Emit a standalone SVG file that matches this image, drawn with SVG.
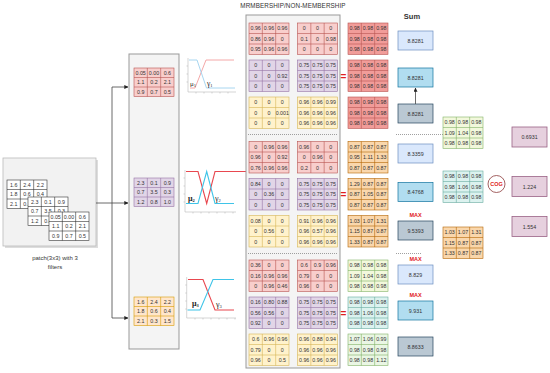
<svg xmlns="http://www.w3.org/2000/svg" xmlns:xlink="http://www.w3.org/1999/xlink" width="550" height="373" viewBox="0 0 550 373">
<style>
.t{font-family:"Liberation Sans",Arial,sans-serif;font-size:5.3px;fill:#333;text-anchor:middle}
.lb{font-family:"Liberation Sans",Arial,sans-serif;fill:#333;text-anchor:middle}
.gk{font-family:"Liberation Serif","Times New Roman",serif;fill:#222}
.pk{fill:#f8cecc;stroke:#b85450;stroke-width:.6}
.pu{fill:#e1d5e7;stroke:#9673a6;stroke-width:.6}
.ye{fill:#fff2cc;stroke:#d6b656;stroke-width:.6}
.or{fill:#ffe6cc;stroke:#d79b00;stroke-width:.6}
.rr{fill:#f19c99;stroke:#b85450;stroke-width:.6}
.ro{fill:#fad7ac;stroke:#b46504;stroke-width:.6}
.g1{fill:#f2f8dc;stroke:#82b366;stroke-width:.6}
.g2{fill:#dcf2ef;stroke:#67ab9f;stroke-width:.6}
.g3{fill:#eaf6e4;stroke:#82b366;stroke-width:.6}
.wh{fill:#fff;stroke:#333;stroke-width:.6}
.panel{fill:#f4f4f4;stroke:#999;stroke-width:1}
.b1{fill:#dae8fc;stroke:#6c8ebf;stroke-width:.7}
.b2{fill:#b1ddf0;stroke:#10739e;stroke-width:.7}
.b3{fill:#bac8d3;stroke:#23445d;stroke-width:.7}
.pb{fill:#e6d0de;stroke:#996185;stroke-width:.8}
.ax{stroke:#bbb;stroke-width:.6;fill:none}
.max{font-family:"Liberation Sans",Arial,sans-serif;font-size:5.5px;font-weight:bold;fill:#e02020;text-anchor:middle}
.eq{font-family:"Liberation Sans",Arial,sans-serif;font-size:10px;font-weight:bold;fill:#e02020;text-anchor:middle}
.dot{stroke:#888;stroke-width:.8;stroke-dasharray:1 1;fill:none}
.cn{stroke:#444;stroke-width:.8;fill:none}
</style>
<defs>
<path id="gb" d="M13.33 0V31.5M26.67 0V31.5M0 10.5H40M0 21H40"/>
<path id="gs" d="M13.33 0V28.5M26.67 0V28.5M0 9.5H40M0 19H40"/>
<marker id="ah" viewBox="0 0 6 6" refX="5.5" refY="3" markerWidth="5" markerHeight="5" orient="auto"><path d="M0 0L6 3L0 6z" fill="#222"/></marker>
</defs>
<rect width="550" height="373" fill="#fff"/>

<!-- titles -->
<text class="lb" x="293" y="8" font-size="6.3" letter-spacing="0.1">MRMBERSHIP/NON-MEMBERSHIP</text>
<text class="lb" x="412" y="19" font-size="7.5" font-weight="bold">Sum</text>

<!-- patch panel -->
<g id="patch">
<rect x="5" y="160" width="93" height="88" fill="#ddd"/>
<rect x="3" y="158" width="93" height="88" fill="#f2f2f2" stroke="#bbb" stroke-width=".8"/>
<g transform="translate(7 180)"><rect class="wh" width="40" height="28.5"/><use xlink:href="#gs" class="wh"/>
<text class="t" y="6.75"><tspan x="6.67">1.6</tspan><tspan x="20">2.4</tspan><tspan x="33.33">2.2</tspan></text>
<text class="t" y="16.25"><tspan x="6.67">1.8</tspan><tspan x="20">0.6</tspan><tspan x="33.33">0.4</tspan></text>
<text class="t" y="25.75"><tspan x="6.67">2.1</tspan><tspan x="20">0.3</tspan><tspan x="33.33">1.5</tspan></text></g>
<g transform="translate(28 197)"><rect class="wh" width="40" height="28.5"/><use xlink:href="#gs" class="wh"/>
<text class="t" y="6.75"><tspan x="6.67">2.3</tspan><tspan x="20">0.1</tspan><tspan x="33.33">0.9</tspan></text>
<text class="t" y="16.25"><tspan x="6.67">0.7</tspan><tspan x="20">3.5</tspan><tspan x="33.33">0.3</tspan></text>
<text class="t" y="25.75"><tspan x="6.67">1.2</tspan><tspan x="20">0.8</tspan><tspan x="33.33">1.0</tspan></text></g>
<g transform="translate(49 212)"><rect class="wh" width="40" height="28.5"/><use xlink:href="#gs" class="wh"/>
<text class="t" y="6.75"><tspan x="6.67">0.05</tspan><tspan x="20">0.00</tspan><tspan x="33.33">0.6</tspan></text>
<text class="t" y="16.25"><tspan x="6.67">1.1</tspan><tspan x="20">0.2</tspan><tspan x="33.33">2.1</tspan></text>
<text class="t" y="25.75"><tspan x="6.67">0.9</tspan><tspan x="20">0.7</tspan><tspan x="33.33">0.5</tspan></text></g>
<text class="lb" x="55" y="260" font-size="6">patch(3x3) with 3</text>
<text class="lb" x="55" y="268.5" font-size="6">filters</text>
</g>

<!-- filter panel -->
<g id="filters">
<rect class="panel" x="129" y="54" width="50" height="295"/>
<g transform="translate(134 68)"><rect class="pk" width="40" height="28.5"/><use xlink:href="#gs" class="pk"/>
<text class="t" y="6.75"><tspan x="6.67">0.05</tspan><tspan x="20">0.00</tspan><tspan x="33.33">0.6</tspan></text>
<text class="t" y="16.25"><tspan x="6.67">1.1</tspan><tspan x="20">0.2</tspan><tspan x="33.33">2.1</tspan></text>
<text class="t" y="25.75"><tspan x="6.67">0.9</tspan><tspan x="20">0.7</tspan><tspan x="33.33">0.5</tspan></text></g>
<g transform="translate(134 178)"><rect class="pu" width="40" height="28.5"/><use xlink:href="#gs" class="pu"/>
<text class="t" y="6.75"><tspan x="6.67">2.3</tspan><tspan x="20">0.1</tspan><tspan x="33.33">0.9</tspan></text>
<text class="t" y="16.25"><tspan x="6.67">0.7</tspan><tspan x="20">3.5</tspan><tspan x="33.33">0.3</tspan></text>
<text class="t" y="25.75"><tspan x="6.67">1.2</tspan><tspan x="20">0.8</tspan><tspan x="33.33">1.0</tspan></text></g>
<g transform="translate(134 297)"><rect class="or" width="40" height="28.5"/><use xlink:href="#gs" class="or"/>
<text class="t" y="6.75"><tspan x="6.67">1.6</tspan><tspan x="20">2.4</tspan><tspan x="33.33">2.2</tspan></text>
<text class="t" y="16.25"><tspan x="6.67">1.8</tspan><tspan x="20">0.6</tspan><tspan x="33.33">0.4</tspan></text>
<text class="t" y="25.75"><tspan x="6.67">2.1</tspan><tspan x="20">0.3</tspan><tspan x="33.33">1.5</tspan></text></g>
</g>

<!-- charts -->
<g id="chart1">
<path class="ax" d="M188 58V92H236M188 66h-1.5M188 74h-1.5M188 82h-1.5M196 92v1.5M204 92v1.5M212 92v1.5M220 92v1.5M228 92v1.5"/>
<path d="M190 88H195L206 60H234" fill="none" stroke="#f4a8a8" stroke-width="1"/>
<path d="M189 60H197L206.5 88H235" fill="none" stroke="#a8d6f0" stroke-width="1"/>
<text class="gk" x="190" y="86" font-size="7">μ<tspan font-size="4.5" dy="1">1</tspan></text>
<text class="gk" x="207" y="86" font-size="7.5">γ<tspan font-size="4.5" dy="1">1</tspan></text>
</g>
<g id="chart2">
<path class="ax" d="M185 170V212H236M185 178h-1.5M185 186h-1.5M185 194h-1.5M185 202h-1.5M193 212v1.5M201 212v1.5M209 212v1.5M217 212v1.5M225 212v1.5M233 212v1.5"/>
<path d="M186 171.5H198L206.7 203.5L215 171.5H246" fill="none" stroke="#e8474f" stroke-width="1.1"/>
<path d="M186 203.5H198L206.7 171.5L215 203.5H234" fill="none" stroke="#3fc4e8" stroke-width="1.1"/>
<text class="gk" x="188" y="201" font-size="8" font-weight="bold">μ<tspan font-size="4.5" dy="1">2</tspan></text>
<text class="gk" x="215" y="201" font-size="8">γ<tspan font-size="4.5" dy="1">2</tspan></text>
</g>
<g id="chart3">
<path class="ax" d="M186.7 277V318H236M186.7 285h-1.5M186.7 293h-1.5M186.7 301h-1.5M186.7 309h-1.5M195 318v1.5M203 318v1.5M211 318v1.5M219 318v1.5M227 318v1.5M235 318v1.5"/>
<path d="M188 279.5H203L215 310H234" fill="none" stroke="#e8474f" stroke-width="1.1"/>
<path d="M187.5 310H200L213 279.5H234" fill="none" stroke="#3fc4e8" stroke-width="1.1"/>
<text class="gk" x="192" y="306" font-size="8" font-weight="bold">μ<tspan font-size="4.5" dy="1">3</tspan></text>
<text class="gk" x="216" y="307" font-size="8">γ<tspan font-size="4.5" dy="1">3</tspan></text>
</g>

<!-- membership panel -->
<g id="membership">
<rect class="panel" x="246" y="15" width="94" height="353"/>
<path class="dot" d="M248 134.5H338M248 253.5H338"/>
<!-- G1 left -->
<g transform="translate(249 23)"><rect class="pk" width="40" height="31.5"/><use xlink:href="#gb" class="pk"/>
<text class="t" y="7.25"><tspan x="6.67">0.96</tspan><tspan x="20">0.96</tspan><tspan x="33.33">0.96</tspan></text>
<text class="t" y="17.75"><tspan x="6.67">0.86</tspan><tspan x="20">0.96</tspan><tspan x="33.33">0</tspan></text>
<text class="t" y="28.25"><tspan x="6.67">0.95</tspan><tspan x="20">0.96</tspan><tspan x="33.33">0.96</tspan></text></g>
<g transform="translate(249 60)"><rect class="pu" width="40" height="31.5"/><use xlink:href="#gb" class="pu"/>
<text class="t" y="7.25"><tspan x="6.67">0</tspan><tspan x="20">0</tspan><tspan x="33.33">0</tspan></text>
<text class="t" y="17.75"><tspan x="6.67">0</tspan><tspan x="20">0</tspan><tspan x="33.33">0.92</tspan></text>
<text class="t" y="28.25"><tspan x="6.67">0</tspan><tspan x="20">0</tspan><tspan x="33.33">0</tspan></text></g>
<g transform="translate(249 97)"><rect class="ye" width="40" height="31.5"/><use xlink:href="#gb" class="ye"/>
<text class="t" y="7.25"><tspan x="6.67">0</tspan><tspan x="20">0</tspan><tspan x="33.33">0</tspan></text>
<text class="t" y="17.75"><tspan x="6.67">0</tspan><tspan x="20">0</tspan><tspan x="33.33">0.001</tspan></text>
<text class="t" y="28.25"><tspan x="6.67">0</tspan><tspan x="20">0</tspan><tspan x="33.33">0</tspan></text></g>
<!-- G1 right -->
<g transform="translate(297.5 23)"><rect class="pk" width="40" height="31.5"/><use xlink:href="#gb" class="pk"/>
<text class="t" y="7.25"><tspan x="6.67">0</tspan><tspan x="20">0</tspan><tspan x="33.33">0</tspan></text>
<text class="t" y="17.75"><tspan x="6.67">0.1</tspan><tspan x="20">0</tspan><tspan x="33.33">0.98</tspan></text>
<text class="t" y="28.25"><tspan x="6.67">0</tspan><tspan x="20">0</tspan><tspan x="33.33">0</tspan></text></g>
<g transform="translate(297.5 60)"><rect class="pu" width="40" height="31.5"/><use xlink:href="#gb" class="pu"/>
<text class="t" y="7.25"><tspan x="6.67">0.75</tspan><tspan x="20">0.75</tspan><tspan x="33.33">0.75</tspan></text>
<text class="t" y="17.75"><tspan x="6.67">0.75</tspan><tspan x="20">0.75</tspan><tspan x="33.33">0.75</tspan></text>
<text class="t" y="28.25"><tspan x="6.67">0.75</tspan><tspan x="20">0.75</tspan><tspan x="33.33">0.75</tspan></text></g>
<g transform="translate(297.5 97)"><rect class="ye" width="40" height="31.5"/><use xlink:href="#gb" class="ye"/>
<text class="t" y="7.25"><tspan x="6.67">0.96</tspan><tspan x="20">0.96</tspan><tspan x="33.33">0.99</tspan></text>
<text class="t" y="17.75"><tspan x="6.67">0.96</tspan><tspan x="20">0.96</tspan><tspan x="33.33">0.96</tspan></text>
<text class="t" y="28.25"><tspan x="6.67">0.96</tspan><tspan x="20">0.96</tspan><tspan x="33.33">0.96</tspan></text></g>
<!-- G2 left -->
<g transform="translate(249 141.5)"><rect class="pk" width="40" height="31.5"/><use xlink:href="#gb" class="pk"/>
<text class="t" y="7.25"><tspan x="6.67">0</tspan><tspan x="20">0.96</tspan><tspan x="33.33">0.96</tspan></text>
<text class="t" y="17.75"><tspan x="6.67">0.96</tspan><tspan x="20">0</tspan><tspan x="33.33">0.92</tspan></text>
<text class="t" y="28.25"><tspan x="6.67">0.76</tspan><tspan x="20">0.96</tspan><tspan x="33.33">0.96</tspan></text></g>
<g transform="translate(249 178.5)"><rect class="pu" width="40" height="31.5"/><use xlink:href="#gb" class="pu"/>
<text class="t" y="7.25"><tspan x="6.67">0.84</tspan><tspan x="20">0</tspan><tspan x="33.33">0</tspan></text>
<text class="t" y="17.75"><tspan x="6.67">0</tspan><tspan x="20">0.36</tspan><tspan x="33.33">0</tspan></text>
<text class="t" y="28.25"><tspan x="6.67">0</tspan><tspan x="20">0</tspan><tspan x="33.33">0</tspan></text></g>
<g transform="translate(249 215.5)"><rect class="ye" width="40" height="31.5"/><use xlink:href="#gb" class="ye"/>
<text class="t" y="7.25"><tspan x="6.67">0.08</tspan><tspan x="20">0</tspan><tspan x="33.33">0</tspan></text>
<text class="t" y="17.75"><tspan x="6.67">0</tspan><tspan x="20">0.56</tspan><tspan x="33.33">0</tspan></text>
<text class="t" y="28.25"><tspan x="6.67">0</tspan><tspan x="20">0</tspan><tspan x="33.33">0</tspan></text></g>
<!-- G2 right -->
<g transform="translate(297.5 141.5)"><rect class="pk" width="40" height="31.5"/><use xlink:href="#gb" class="pk"/>
<text class="t" y="7.25"><tspan x="6.67">0.96</tspan><tspan x="20">0</tspan><tspan x="33.33">0</tspan></text>
<text class="t" y="17.75"><tspan x="6.67">0</tspan><tspan x="20">0.96</tspan><tspan x="33.33">0</tspan></text>
<text class="t" y="28.25"><tspan x="6.67">0.2</tspan><tspan x="20">0</tspan><tspan x="33.33">0</tspan></text></g>
<g transform="translate(297.5 178.5)"><rect class="pu" width="40" height="31.5"/><use xlink:href="#gb" class="pu"/>
<text class="t" y="7.25"><tspan x="6.67">0.75</tspan><tspan x="20">0.75</tspan><tspan x="33.33">0.75</tspan></text>
<text class="t" y="17.75"><tspan x="6.67">0.75</tspan><tspan x="20">0.75</tspan><tspan x="33.33">0.75</tspan></text>
<text class="t" y="28.25"><tspan x="6.67">0.75</tspan><tspan x="20">0.75</tspan><tspan x="33.33">0.75</tspan></text></g>
<g transform="translate(297.5 215.5)"><rect class="ye" width="40" height="31.5"/><use xlink:href="#gb" class="ye"/>
<text class="t" y="7.25"><tspan x="6.67">0.91</tspan><tspan x="20">0.96</tspan><tspan x="33.33">0.96</tspan></text>
<text class="t" y="17.75"><tspan x="6.67">0.96</tspan><tspan x="20">0.57</tspan><tspan x="33.33">0.96</tspan></text>
<text class="t" y="28.25"><tspan x="6.67">0.96</tspan><tspan x="20">0.96</tspan><tspan x="33.33">0.96</tspan></text></g>
<!-- G3 left -->
<g transform="translate(249 260)"><rect class="pk" width="40" height="31.5"/><use xlink:href="#gb" class="pk"/>
<text class="t" y="7.25"><tspan x="6.67">0.36</tspan><tspan x="20">0</tspan><tspan x="33.33">0</tspan></text>
<text class="t" y="17.75"><tspan x="6.67">0.16</tspan><tspan x="20">0.96</tspan><tspan x="33.33">0.96</tspan></text>
<text class="t" y="28.25"><tspan x="6.67">0</tspan><tspan x="20">0.96</tspan><tspan x="33.33">0.46</tspan></text></g>
<g transform="translate(249 297)"><rect class="pu" width="40" height="31.5"/><use xlink:href="#gb" class="pu"/>
<text class="t" y="7.25"><tspan x="6.67">0.16</tspan><tspan x="20">0.80</tspan><tspan x="33.33">0.88</tspan></text>
<text class="t" y="17.75"><tspan x="6.67">0.56</tspan><tspan x="20">0.56</tspan><tspan x="33.33">0</tspan></text>
<text class="t" y="28.25"><tspan x="6.67">0.92</tspan><tspan x="20">0</tspan><tspan x="33.33">0</tspan></text></g>
<g transform="translate(249 334)"><rect class="ye" width="40" height="31.5"/><use xlink:href="#gb" class="ye"/>
<text class="t" y="7.25"><tspan x="6.67">0.6</tspan><tspan x="20">0.96</tspan><tspan x="33.33">0.96</tspan></text>
<text class="t" y="17.75"><tspan x="6.67">0.79</tspan><tspan x="20">0</tspan><tspan x="33.33">0</tspan></text>
<text class="t" y="28.25"><tspan x="6.67">0.96</tspan><tspan x="20">0</tspan><tspan x="33.33">0.5</tspan></text></g>
<!-- G3 right -->
<g transform="translate(297.5 260)"><rect class="pk" width="40" height="31.5"/><use xlink:href="#gb" class="pk"/>
<text class="t" y="7.25"><tspan x="6.67">0.6</tspan><tspan x="20">0.9</tspan><tspan x="33.33">0.96</tspan></text>
<text class="t" y="17.75"><tspan x="6.67">0.79</tspan><tspan x="20">0</tspan><tspan x="33.33">0</tspan></text>
<text class="t" y="28.25"><tspan x="6.67">0.96</tspan><tspan x="20">0</tspan><tspan x="33.33">0</tspan></text></g>
<g transform="translate(297.5 297)"><rect class="pu" width="40" height="31.5"/><use xlink:href="#gb" class="pu"/>
<text class="t" y="7.25"><tspan x="6.67">0.75</tspan><tspan x="20">0.75</tspan><tspan x="33.33">0.75</tspan></text>
<text class="t" y="17.75"><tspan x="6.67">0.75</tspan><tspan x="20">0.75</tspan><tspan x="33.33">0.75</tspan></text>
<text class="t" y="28.25"><tspan x="6.67">0.75</tspan><tspan x="20">0.75</tspan><tspan x="33.33">0.75</tspan></text></g>
<g transform="translate(297.5 334)"><rect class="ye" width="40" height="31.5"/><use xlink:href="#gb" class="ye"/>
<text class="t" y="7.25"><tspan x="6.67">0.96</tspan><tspan x="20">0.88</tspan><tspan x="33.33">0.94</tspan></text>
<text class="t" y="17.75"><tspan x="6.67">0.96</tspan><tspan x="20">0.96</tspan><tspan x="33.33">0.96</tspan></text>
<text class="t" y="28.25"><tspan x="6.67">0.96</tspan><tspan x="20">0.96</tspan><tspan x="33.33">0.96</tspan></text></g>
</g>

<text class="eq" x="343.5" y="79.5">=</text>
<text class="eq" x="343.5" y="197.5">=</text>
<text class="eq" x="343.5" y="316.5">=</text>

<!-- results -->
<g id="results">
<g transform="translate(348 23)"><rect class="rr" width="40" height="31.5"/><use xlink:href="#gb" class="rr"/>
<text class="t" y="7.25"><tspan x="6.67">0.98</tspan><tspan x="20">0.98</tspan><tspan x="33.33">0.98</tspan></text>
<text class="t" y="17.75"><tspan x="6.67">0.98</tspan><tspan x="20">0.98</tspan><tspan x="33.33">0.98</tspan></text>
<text class="t" y="28.25"><tspan x="6.67">0.98</tspan><tspan x="20">0.98</tspan><tspan x="33.33">0.98</tspan></text></g>
<g transform="translate(348 60)"><rect class="rr" width="40" height="31.5"/><use xlink:href="#gb" class="rr"/>
<text class="t" y="7.25"><tspan x="6.67">0.98</tspan><tspan x="20">0.98</tspan><tspan x="33.33">0.98</tspan></text>
<text class="t" y="17.75"><tspan x="6.67">0.98</tspan><tspan x="20">0.98</tspan><tspan x="33.33">0.98</tspan></text>
<text class="t" y="28.25"><tspan x="6.67">0.98</tspan><tspan x="20">0.98</tspan><tspan x="33.33">0.98</tspan></text></g>
<g transform="translate(348 97)"><rect class="rr" width="40" height="31.5"/><use xlink:href="#gb" class="rr"/>
<text class="t" y="7.25"><tspan x="6.67">0.98</tspan><tspan x="20">0.98</tspan><tspan x="33.33">0.98</tspan></text>
<text class="t" y="17.75"><tspan x="6.67">0.98</tspan><tspan x="20">0.98</tspan><tspan x="33.33">0.98</tspan></text>
<text class="t" y="28.25"><tspan x="6.67">0.98</tspan><tspan x="20">0.98</tspan><tspan x="33.33">0.98</tspan></text></g>
<g transform="translate(348 141.5)"><rect class="ro" width="40" height="31.5"/><use xlink:href="#gb" class="ro"/>
<text class="t" y="7.25"><tspan x="6.67">0.87</tspan><tspan x="20">0.87</tspan><tspan x="33.33">0.87</tspan></text>
<text class="t" y="17.75"><tspan x="6.67">0.95</tspan><tspan x="20">1.11</tspan><tspan x="33.33">1.33</tspan></text>
<text class="t" y="28.25"><tspan x="6.67">0.87</tspan><tspan x="20">0.87</tspan><tspan x="33.33">0.87</tspan></text></g>
<g transform="translate(348 178.5)"><rect class="ro" width="40" height="31.5"/><use xlink:href="#gb" class="ro"/>
<text class="t" y="7.25"><tspan x="6.67">1.29</tspan><tspan x="20">0.87</tspan><tspan x="33.33">0.87</tspan></text>
<text class="t" y="17.75"><tspan x="6.67">0.87</tspan><tspan x="20">1.05</tspan><tspan x="33.33">0.87</tspan></text>
<text class="t" y="28.25"><tspan x="6.67">0.87</tspan><tspan x="20">0.87</tspan><tspan x="33.33">0.87</tspan></text></g>
<g transform="translate(348 215.5)"><rect class="ro" width="40" height="31.5"/><use xlink:href="#gb" class="ro"/>
<text class="t" y="7.25"><tspan x="6.67">1.03</tspan><tspan x="20">1.07</tspan><tspan x="33.33">1.31</tspan></text>
<text class="t" y="17.75"><tspan x="6.67">1.15</tspan><tspan x="20">0.87</tspan><tspan x="33.33">0.87</tspan></text>
<text class="t" y="28.25"><tspan x="6.67">1.33</tspan><tspan x="20">0.87</tspan><tspan x="33.33">0.87</tspan></text></g>
<g transform="translate(348 260)"><rect class="g1" width="40" height="31.5"/><use xlink:href="#gb" class="g1"/>
<text class="t" y="7.25"><tspan x="6.67">0.98</tspan><tspan x="20">0.98</tspan><tspan x="33.33">0.98</tspan></text>
<text class="t" y="17.75"><tspan x="6.67">1.09</tspan><tspan x="20">1.04</tspan><tspan x="33.33">0.98</tspan></text>
<text class="t" y="28.25"><tspan x="6.67">0.98</tspan><tspan x="20">0.98</tspan><tspan x="33.33">0.98</tspan></text></g>
<g transform="translate(348 297)"><rect class="g2" width="40" height="31.5"/><use xlink:href="#gb" class="g2"/>
<text class="t" y="7.25"><tspan x="6.67">0.98</tspan><tspan x="20">0.98</tspan><tspan x="33.33">0.98</tspan></text>
<text class="t" y="17.75"><tspan x="6.67">0.98</tspan><tspan x="20">1.06</tspan><tspan x="33.33">0.98</tspan></text>
<text class="t" y="28.25"><tspan x="6.67">0.98</tspan><tspan x="20">0.98</tspan><tspan x="33.33">0.98</tspan></text></g>
<g transform="translate(348 334)"><rect class="g3" width="40" height="31.5"/><use xlink:href="#gb" class="g3"/>
<text class="t" y="7.25"><tspan x="6.67">1.07</tspan><tspan x="20">1.06</tspan><tspan x="33.33">0.99</tspan></text>
<text class="t" y="17.75"><tspan x="6.67">0.98</tspan><tspan x="20">0.98</tspan><tspan x="33.33">0.98</tspan></text>
<text class="t" y="28.25"><tspan x="6.67">0.98</tspan><tspan x="20">0.98</tspan><tspan x="33.33">1.12</tspan></text></g>
</g>

<!-- sums -->
<path class="dot" d="M396 134.5H448M396 253.5H422"/>
<g id="sums" font-family="Liberation Sans, Arial, sans-serif">
<g id="s1"><rect class="b1" x="398" y="31" width="35" height="19"/><text class="t" x="415.5" y="42.5" font-size="5.5">8.8281</text></g>
<g id="s2"><rect class="b2" x="398" y="68" width="35" height="19"/><text class="t" x="415.5" y="79.5" font-size="5.5">8.8281</text></g>
<g id="s3"><rect class="b3" x="398" y="104" width="35" height="19"/><text class="t" x="415.5" y="115.5" font-size="5.5">8.8281</text></g>
<g id="s4"><rect class="b1" x="398" y="144" width="35" height="19"/><text class="t" x="415.5" y="155.5" font-size="5.5">8.3359</text></g>
<g id="s5"><rect class="b2" x="398" y="182.5" width="35" height="19"/><text class="t" x="415.5" y="194" font-size="5.5">8.4768</text></g>
<g id="s6"><text class="max" x="415.5" y="217">MAX</text><rect class="b3" x="398" y="221" width="35" height="19"/><text class="t" x="415.5" y="232.5" font-size="5.5">9.5393</text></g>
<g id="s7"><text class="max" x="415.5" y="260.5">MAX</text><rect class="b1" x="398" y="265" width="35" height="19"/><text class="t" x="415.5" y="276.5" font-size="5.5">8.829</text></g>
<g id="s8"><text class="max" x="415.5" y="297">MAX</text><rect class="b2" x="398" y="301" width="35" height="19"/><text class="t" x="415.5" y="312.5" font-size="5.5">9.931</text></g>
<g id="s9"><rect class="b3" x="398" y="337" width="35" height="19"/><text class="t" x="415.5" y="348.5" font-size="5.5">8.8633</text></g>
</g>

<!-- selected matrices -->
<g id="selected">
<g transform="translate(443 117)"><rect class="g1" width="40" height="31.5"/><use xlink:href="#gb" class="g1"/>
<text class="t" y="7.25"><tspan x="6.67">0.98</tspan><tspan x="20">0.98</tspan><tspan x="33.33">0.98</tspan></text>
<text class="t" y="17.75"><tspan x="6.67">1.09</tspan><tspan x="20">1.04</tspan><tspan x="33.33">0.98</tspan></text>
<text class="t" y="28.25"><tspan x="6.67">0.98</tspan><tspan x="20">0.98</tspan><tspan x="33.33">0.98</tspan></text></g>
<g transform="translate(443 171)"><rect class="g2" width="40" height="31.5"/><use xlink:href="#gb" class="g2"/>
<text class="t" y="7.25"><tspan x="6.67">0.98</tspan><tspan x="20">0.98</tspan><tspan x="33.33">0.98</tspan></text>
<text class="t" y="17.75"><tspan x="6.67">0.98</tspan><tspan x="20">1.06</tspan><tspan x="33.33">0.98</tspan></text>
<text class="t" y="28.25"><tspan x="6.67">0.98</tspan><tspan x="20">0.98</tspan><tspan x="33.33">0.98</tspan></text></g>
<g transform="translate(443 227)"><rect class="ro" width="40" height="31.5"/><use xlink:href="#gb" class="ro"/>
<text class="t" y="7.25"><tspan x="6.67">1.03</tspan><tspan x="20">1.07</tspan><tspan x="33.33">1.31</tspan></text>
<text class="t" y="17.75"><tspan x="6.67">1.15</tspan><tspan x="20">0.87</tspan><tspan x="33.33">0.87</tspan></text>
<text class="t" y="28.25"><tspan x="6.67">1.33</tspan><tspan x="20">0.87</tspan><tspan x="33.33">0.87</tspan></text></g>
</g>

<g id="cog">
<circle cx="496.5" cy="184" r="8.5" fill="#fff" stroke="#8c3a3a" stroke-width=".8"/>
<text class="max" x="496.5" y="186" font-size="5.5">COG</text>
</g>

<g id="outputs">
<g id="o1"><rect class="pb" x="512" y="127" width="35" height="20" stroke="#333"/><text class="t" x="529.5" y="139">0.6931</text></g>
<g id="o2"><rect class="pb" x="512" y="176.5" width="35" height="20"/><text class="t" x="529.5" y="188.5">1.224</text></g>
<g id="o3"><rect class="pb" x="512" y="216.5" width="35" height="20"/><text class="t" x="529.5" y="228.5">1.554</text></g>
</g>

<!-- connectors -->
<g id="connectors">
<path class="cn" d="M112 87V318"/>
<path class="cn" d="M112 87H128" marker-end="url(#ah)"/>
<path class="cn" d="M96 203H128" marker-end="url(#ah)"/>
<path class="cn" d="M112 318H128" marker-end="url(#ah)"/>
<path class="cn" d="M415.5 104V88" marker-end="url(#ah)"/>
</g>
</svg>
